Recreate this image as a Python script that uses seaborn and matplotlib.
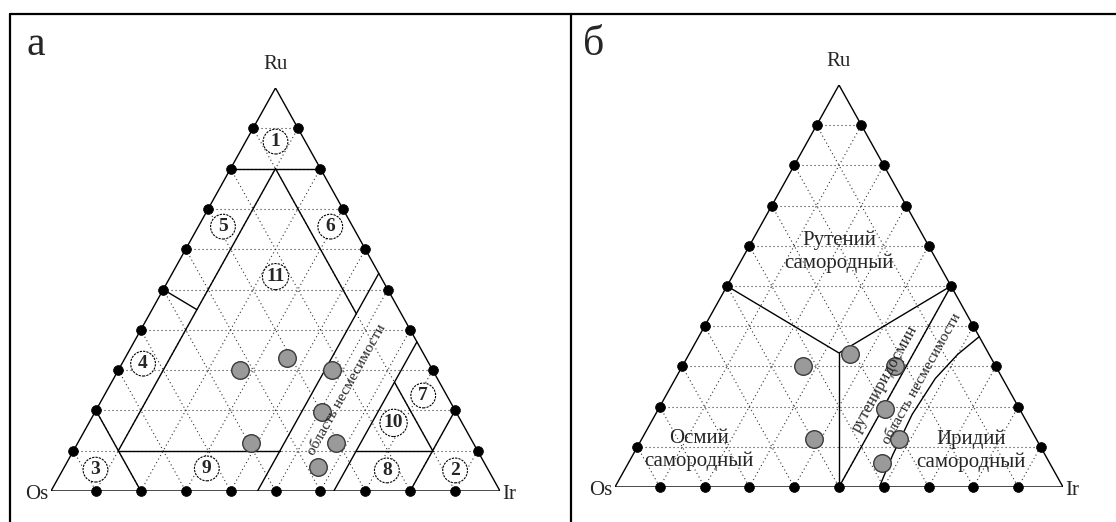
import numpy as np
import pandas as pd
import seaborn as sns
import matplotlib.pyplot as plt
from matplotlib.lines import Line2D

# grain compositions, % (the same seven grains on both diagrams)
os_pct = [31, 43, 22.5, 30, 49.5, 30.5, 37.5]
ru_pct = [33, 30, 30, 19.5, 12, 12, 6]
ir_pct = [36, 27, 47.5, 50.5, 38.5, 57.5, 56.5]

# 10 % steps along every side of the triangle
ticks = [10, 20, 30, 40, 50, 60, 70, 80, 90]

# field boundaries of diagram a, (Os, Ru, Ir) %
bounds_a = [
    [(20, 80, 0), (0, 80, 20)],
    [(10, 80, 10), (80, 10, 10)],
    [(10, 80, 10), (10, 44, 46)],
    [(10, 27, 63), (10, 10, 80)],
    [(80, 10, 10), (44, 10, 46)],
    [(27, 10, 63), (10, 10, 80)],
    [(80, 20, 0), (80, 0, 20)],
    [(0, 20, 80), (20, 0, 80)],
    [(54, 0, 46), (0, 54, 46)],
    [(37, 0, 63), (0, 37, 63)],
    [(50, 50, 0), (45, 45, 10)],
]

# field boundaries of diagram б
bounds_b = [
    [(50, 50, 0), (33.3, 33.3, 33.3), (0, 50, 50)],
    [(33.3, 33.3, 33.3), (50, 0, 50)],
    [(50, 0, 50), (0, 50, 50)],
]
# edge of the iridium field (slightly curved)
gap_ru = [0, 8, 18, 27, 33, 37.4]
gap_ir = [59, 58, 57.3, 58, 60, 62.6]

field_nums = ['1', '2', '3', '4', '5', '6', '7', '8', '9', '10', '11']
mineral_names = ['Рутений\nсамородный', 'Осмий\nсамородный', 'Иридий\nсамородный']

SERIF = ['Liberation Serif', 'DejaVu Serif']


def tern(os_, ru, ir):
    s = os_ + ru + ir
    return (ir + ru / 2) / s, ru / s


def draw_base(ax):
    # dotted 10 % grid
    for v in ticks:
        for p, q in [((100 - v, v, 0), (0, v, 100 - v)),
                     ((100 - v, 0, v), (0, 100 - v, v)),
                     ((v, 100 - v, 0), (v, 0, 100 - v))]:
            x0, y0 = tern(*p)
            x1, y1 = tern(*q)
            ax.plot([x0, x1], [y0, y1], color='#333333', lw=0.8,
                    ls=(0, (1, 2.6)), zorder=1)
    # triangle outline
    corners = [(100, 0, 0), (0, 0, 100), (0, 100, 0), (100, 0, 0)]
    xy = [tern(*c) for c in corners]
    ax.plot([p[0] for p in xy], [p[1] for p in xy], color='black', lw=1.0, zorder=2)
    # black dots on the sides
    dots = []
    for v in ticks:
        dots += [tern(100 - v, 0, v), tern(100 - v, v, 0), tern(0, v, 100 - v)]
    dots = pd.DataFrame(dots, columns=['x', 'y'])
    sns.scatterplot(data=dots, x='x', y='y', ax=ax, color='black', s=50,
                    edgecolor='black', linewidth=0.5, zorder=5, clip_on=False)
    # vertex names
    ax.text(0.5, 1.035, 'Ru', ha='center', va='bottom', fontsize=15, family=SERIF)
    ax.text(-0.005, -0.008, 'Os', ha='right', va='center', fontsize=15, family=SERIF)
    ax.text(1.005, -0.008, 'Ir', ha='left', va='center', fontsize=15, family=SERIF)


def draw_lines(ax, bounds):
    for seg in bounds:
        xy = [tern(*p) for p in seg]
        ax.plot([p[0] for p in xy], [p[1] for p in xy], color='black', lw=1.0, zorder=3)


def draw_points(ax):
    pts = [tern(o, r, i) for o, r, i in zip(os_pct, ru_pct, ir_pct)]
    df = pd.DataFrame(pts, columns=['x', 'y'])
    sns.scatterplot(data=df, x='x', y='y', ax=ax, color='#9a9a9a', s=160,
                    marker='o', edgecolor='#3a3a3a', linewidth=1.0, zorder=6,
                    clip_on=False)


sns.set_style('white')
plt.rcParams['font.family'] = SERIF

fig = plt.figure(figsize=(11.16, 5.22), dpi=100)
W, H = 1116, 522


def add_panel(left, right, bottom, top):
    ax = fig.add_axes([left / W, 1 - bottom / H, (right - left) / W, (bottom - top) / H])
    ax.set_xlim(0, 1)
    ax.set_ylim(0, 1)
    ax.axis('off')
    return ax


# ---- panel a ----
ax_a = add_panel(51, 500, 491, 88)
draw_base(ax_a)
draw_lines(ax_a, bounds_a)
draw_points(ax_a)

num_pos = [(0.5, 0.867), (0.9, 0.051), (0.099, 0.053), (0.205, 0.316),
           (0.383, 0.656), (0.622, 0.656), (0.829, 0.237), (0.748, 0.051),
           (0.347, 0.056), (0.763, 0.169), (0.5, 0.532)]
for lab, (x, y) in zip(field_nums, num_pos):
    ax_a.text(x, y, lab, ha='center', va='center', fontsize=14, fontweight='bold',
              family=SERIF, zorder=7,
              bbox=dict(boxstyle='circle,pad=0.2', fc='white', ec='black',
                        lw=0.8, ls=(0, (2, 1))))

ang = np.degrees(np.arctan2(403, 224.5))
ax_a.text(*tern(21.6, 25, 53.4), 'область несмесимости', rotation=ang,
          rotation_mode='anchor', ha='center', va='center', fontsize=11,
          family=SERIF, zorder=7)

# ---- panel б ----
ax_b = add_panel(615, 1063, 487, 85)
draw_base(ax_b)
draw_lines(ax_b, bounds_b)
gx, gy = zip(*[tern(100 - r - i, r, i) for r, i in zip(gap_ru, gap_ir)])
sns.lineplot(x=list(gx), y=list(gy), ax=ax_b, color='black', lw=1.0, sort=False,
             estimator=None, zorder=3)
draw_points(ax_b)

name_pos = [(0.5, 0.586), (0.188, 0.091), (0.795, 0.091)]
for name, (x, y) in zip(mineral_names, name_pos):
    ax_b.text(x, y, name, ha='center', va='center', fontsize=15, family=SERIF,
              linespacing=1.25, zorder=7)
ax_b.text(*tern(26.2, 27, 46.8), 'рутениридосмин', rotation=ang,
          rotation_mode='anchor', ha='center', va='center', fontsize=12,
          family=SERIF, zorder=7)
ax_b.text(*tern(18, 27, 55), 'область несмесимости', rotation=ang,
          rotation_mode='anchor', ha='center', va='center', fontsize=11,
          family=SERIF, zorder=7)

# ---- table frame and panel letters ----
frame = [([10, W], [14, 14]), ([10, 10], [14, H]), ([571, 571], [14, H])]
for xs, ys in frame:
    fig.add_artist(Line2D([x / W for x in xs], [1 - y / H for y in ys],
                          color='black', lw=1.6))
fig.text(26 / W, 1 - 45 / H, 'а', fontsize=30, va='center', ha='left', family=SERIF)
fig.text(583 / W, 1 - 45 / H, 'б', fontsize=30, va='center', ha='left', family=SERIF)

fig.savefig('out.png', dpi=100)
